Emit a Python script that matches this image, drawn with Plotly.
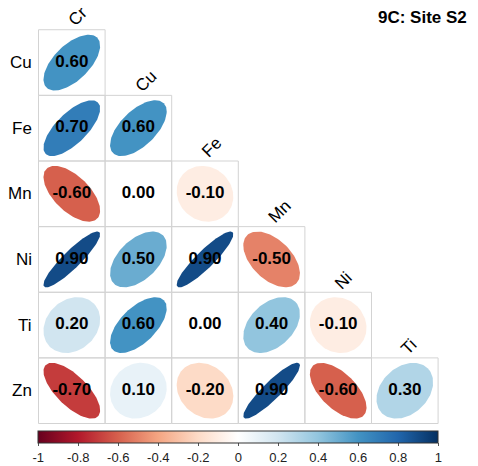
import numpy as np
import plotly.graph_objects as go
from plotly.colors import sample_colorscale

# ---- data -------------------------------------------------------------
row_labels = ["Cu", "Fe", "Mn", "Ni", "Ti", "Zn"]
col_labels = ["Cr", "Cu", "Fe", "Mn", "Ni", "Ti"]

# lower-triangle correlations, one list per row (columns Cr..)
r_cu = [0.60]
r_fe = [0.70, 0.60]
r_mn = [-0.60, 0.00, -0.10]
r_ni = [0.90, 0.50, 0.90, -0.50]
r_ti = [0.20, 0.60, 0.00, 0.40, -0.10]
r_zn = [-0.70, 0.10, -0.20, 0.90, -0.60, 0.30]
corr_rows = [r_cu, r_fe, r_mn, r_ni, r_ti, r_zn]

cbar_ticks = [-1, -0.8, -0.6, -0.4, -0.2, 0, 0.2, 0.4, 0.6, 0.8, 1]
cbar_ticktext = ["-1", "-0.8", "-0.6", "-0.4", "-0.2", "0", "0.2", "0.4", "0.6", "0.8", "1"]

title_text = "9C: Site S2"

# ---- styling / layout -------------------------------------------------
W, H = 478, 466
FONT = "Liberation Sans, Arial, sans-serif"
rdbu = ["#67001F", "#B2182B", "#D6604D", "#F4A582", "#FDDBC7", "#FFFFFF",
        "#D1E5F0", "#92C5DE", "#4393C3", "#2166AC", "#053061"]
colorscale = [[i / 10, c] for i, c in enumerate(rdbu)]

# grid placement in pixels
grid_left, grid_top = 38.5, 30.0
cell_w, cell_h = 66.6, 66.2
x_range = [-0.5 - grid_left / cell_w, -0.5 + (W - grid_left) / cell_w]
y_range = [-0.5 + (H - grid_top) / cell_h, -0.5 - grid_top / cell_h]


def ellipse(rho, n=120, scale=0.85):
    k = np.linspace(0, 2 * np.pi, n)
    d = np.arccos(rho)
    ex = np.cos(k + d / 2) / 2 * scale
    ey = np.cos(k - d / 2) / 2 * scale
    return ex, ey


fig = go.Figure()
shapes = []
annotations = []

text_x, text_y, text_s = [], [], []
for i, row in enumerate(corr_rows):
    for j, r in enumerate(row):
        # cell border
        shapes.append(dict(type="rect", xref="x", yref="y",
                           x0=j - 0.5, x1=j + 0.5, y0=i - 0.5, y1=i + 0.5,
                           line=dict(color="#d3d3d3", width=1), layer="below"))
        ex, ey = ellipse(r)
        col = sample_colorscale(colorscale, [(r + 1) / 2])[0]
        fig.add_trace(go.Scatter(
            x=j + ex, y=i - ey, mode="lines", fill="toself",
            fillcolor=col, line=dict(width=0, color=col),
            hoverinfo="skip", showlegend=False))
        text_x.append(j)
        text_y.append(i)
        text_s.append(f"{r:.2f}")

fig.add_trace(go.Scatter(
    x=text_x, y=text_y, text=text_s, mode="text",
    textfont=dict(family=FONT, size=17, color="black", weight="bold"),
    hoverinfo="skip", showlegend=False))

# colour bar carrier
fig.add_trace(go.Scatter(
    x=[None], y=[None], mode="markers", showlegend=False, hoverinfo="skip",
    marker=dict(color=[0], cmin=-1, cmax=1, colorscale=colorscale,
                showscale=True,
                colorbar=dict(orientation="h", thickness=12,
                              lenmode="pixels", len=400, xpad=0,
                              x=238.3 / W, xanchor="center",
                              y=1 - 435 / H, yanchor="top", ypad=0,
                              outlinewidth=1, outlinecolor="#333333",
                              tickvals=cbar_ticks, ticktext=cbar_ticktext,
                              ticks="outside", ticklen=3, tickcolor="#555555",
                              tickfont=dict(family=FONT, size=13, color="#222222")))))

# row labels
for i, lab in enumerate(row_labels):
    annotations.append(dict(x=-0.5, y=i, xref="x", yref="y", text=lab,
                            showarrow=False, xanchor="right", xshift=-5,
                            font=dict(family=FONT, size=17, color="black")))

# column labels, rotated above the top cell of each column
for j, lab in enumerate(col_labels):
    annotations.append(dict(x=j, y=j - 0.5, xref="x", yref="y", text=lab,
                            showarrow=False, textangle=-45,
                            xanchor="left", yanchor="bottom",
                            xshift=-10, yshift=-3,
                            font=dict(family=FONT, size=17, color="black")))

annotations.append(dict(x=469 / W, y=1 - 17.5 / H, xref="paper", yref="paper",
                        text=f"<b>{title_text}</b>", showarrow=False,
                        xanchor="right", yanchor="middle",
                        font=dict(family=FONT, size=17, color="black")))

fig.update_layout(
    width=W, height=H, margin=dict(l=0, r=0, t=0, b=0),
    plot_bgcolor="white", paper_bgcolor="white",
    xaxis=dict(range=x_range, visible=False, fixedrange=True),
    yaxis=dict(range=y_range, visible=False, fixedrange=True),
    shapes=shapes, annotations=annotations,
)

fig.write_html("out.html")
